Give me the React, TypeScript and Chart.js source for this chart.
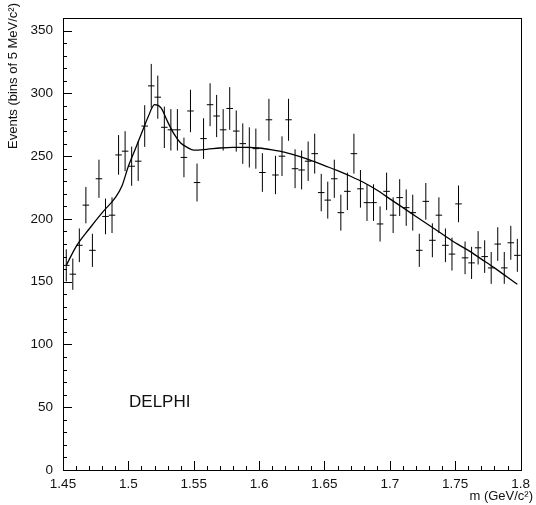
import React, { useEffect, useRef } from 'react';
import { Chart, registerables } from 'chart.js';

Chart.register(...registerables);

// bin centres (5 MeV bins) in GeV/c^2
const binCenters = [
  1.4525, 1.4575, 1.4625, 1.4675, 1.4725, 1.4775, 1.4825, 1.4875, 1.4925, 1.4975,
  1.5025, 1.5075, 1.5125, 1.5175, 1.5225, 1.5275, 1.5325, 1.5375, 1.5425, 1.5475,
  1.5525, 1.5575, 1.5625, 1.5675, 1.5725, 1.5775, 1.5825, 1.5875, 1.5925, 1.5975,
  1.6025, 1.6075, 1.6125, 1.6175, 1.6225, 1.6275, 1.6325, 1.6375, 1.6425, 1.6475,
  1.6525, 1.6575, 1.6625, 1.6675, 1.6725, 1.6775, 1.6825, 1.6875, 1.6925, 1.6975,
  1.7025, 1.7075, 1.7125, 1.7175, 1.7225, 1.7275, 1.7325, 1.7375, 1.7425, 1.7475,
  1.7525, 1.7575, 1.7625, 1.7675, 1.7725, 1.7775, 1.7825, 1.7875, 1.7925, 1.7975,
];

// events per bin
const events = [
  163, 156, 179, 211, 175, 232, 202, 203, 251, 254,
  242, 246, 274, 306, 297, 273, 271, 271, 249, 286,
  229, 264, 291, 282, 271, 288, 270, 260, 257, 256,
  237, 279, 235, 250, 279, 240, 239, 246, 252, 221,
  215, 232, 205, 222, 252, 224, 213, 213, 196, 222,
  203, 217, 209, 205, 175, 214, 183, 203, 179, 172,
  212, 169, 165, 177, 170, 161, 180, 161, 181, 171,
];

// statistical errors per bin
const errors = [
  12.8, 12.5, 13.4, 14.5, 13.2, 15.2, 14.2, 14.2, 15.8, 15.9,
  15.6, 15.7, 16.6, 17.5, 17.2, 16.5, 16.5, 16.5, 15.8, 16.9,
  15.1, 16.2, 17.1, 16.8, 16.5, 17.0, 16.4, 16.1, 16.0, 16.0,
  15.4, 16.7, 15.3, 15.8, 16.7, 15.5, 15.5, 15.7, 15.9, 14.9,
  14.7, 15.2, 14.3, 14.9, 15.9, 15.0, 14.6, 14.6, 14.0, 14.9,
  14.2, 14.7, 14.5, 14.3, 13.2, 14.6, 13.5, 14.2, 13.4, 13.1,
  14.6, 13.0, 12.8, 13.3, 13.0, 12.7, 13.4, 12.7, 13.5, 13.1,
];

// fitted curve
const fitX = [
  1.4525, 1.46, 1.47, 1.48, 1.49, 1.495, 1.5, 1.505, 1.51, 1.515, 1.52, 1.525,
  1.53, 1.535, 1.54, 1.545, 1.55, 1.56, 1.57, 1.58, 1.59, 1.6, 1.61, 1.62,
  1.63, 1.64, 1.65, 1.66, 1.67, 1.68, 1.69, 1.7, 1.71, 1.72, 1.73, 1.74,
  1.75, 1.76, 1.77, 1.78, 1.79, 1.7975,
];
const fitY = [
  163, 178, 192, 205, 217, 226, 242, 255, 268, 281, 291, 288.5,
  277.5, 267.5, 260.5, 257, 254.8, 255.5, 256.5, 257, 257, 256.5, 255, 253,
  250, 246.5, 242.5, 238.5, 234, 229, 223, 216, 209, 202, 195, 188,
  181, 175, 168, 161, 153.5, 148,
];

const xTickLabels = [1.45, 1.5, 1.55, 1.6, 1.65, 1.7, 1.75, 1.8];
const yTickLabels = [0, 50, 100, 150, 200, 250, 300, 350];

const FONT = 'Liberation Sans, Arial, Helvetica, sans-serif';

const framePlugin = {
  id: 'frame',
  afterDatasetsDraw(chart: any) {
    const { ctx, chartArea: a, scales } = chart;
    const xs = scales.x;
    const ys = scales.y;
    ctx.save();
    // error bars
    const meta = chart.getDatasetMeta(0);
    ctx.strokeStyle = '#000';
    ctx.lineWidth = 1;
    meta.data.forEach((pt: any, i: number) => {
      const x0 = xs.getPixelForValue(binCenters[i] - 0.0025);
      const x1 = xs.getPixelForValue(binCenters[i] + 0.0025);
      const yLo = ys.getPixelForValue(events[i] - errors[i]);
      const yHi = ys.getPixelForValue(events[i] + errors[i]);
      ctx.beginPath();
      ctx.moveTo(pt.x, yLo);
      ctx.lineTo(pt.x, yHi);
      ctx.moveTo(x0, pt.y);
      ctx.lineTo(x1, pt.y);
      ctx.stroke();
    });
    // frame
    ctx.strokeStyle = '#000';
    ctx.lineWidth = 1;
    ctx.strokeRect(Math.round(a.left) + 0.5, Math.round(a.top) + 0.5,
      Math.round(a.right - a.left), Math.round(a.bottom - a.top));
    // y ticks (inside, left)
    ctx.beginPath();
    for (let v = 0; v <= 360; v += 10) {
      const y = Math.round(ys.getPixelForValue(v)) + 0.5;
      const len = v % 50 === 0 ? 9 : 4;
      ctx.moveTo(a.left, y);
      ctx.lineTo(a.left + len, y);
    }
    // x ticks (inside, bottom)
    for (let k = 0; k <= 35; k++) {
      const v = 1.45 + k * 0.01;
      const x = Math.round(xs.getPixelForValue(v)) + 0.5;
      const len = k % 5 === 0 ? 9 : 4;
      ctx.moveTo(x, a.bottom);
      ctx.lineTo(x, a.bottom - len);
    }
    ctx.stroke();
    // texts
    ctx.fillStyle = '#111';
    ctx.font = `17px ${FONT}`;
    ctx.textAlign = 'left';
    ctx.textBaseline = 'middle';
    ctx.fillText('DELPHI', xs.getPixelForValue(1.5005), ys.getPixelForValue(54));

    ctx.font = `13px ${FONT}`;
    ctx.textAlign = 'right';
    ctx.textBaseline = 'alphabetic';
    ctx.fillText('m (GeV/c²)', 533, 500);

    ctx.save();
    ctx.translate(17, 3);
    ctx.rotate(-Math.PI / 2);
    ctx.textAlign = 'right';
    ctx.textBaseline = 'alphabetic';
    ctx.fillText('Events (bins of 5 MeV/c²)', 0, 0);
    ctx.restore();
    ctx.restore();
  },
};

export default function App() {
  const ref = useRef<HTMLCanvasElement | null>(null);
  useEffect(() => {
    if (!ref.current) return;
    const chart = new Chart(ref.current, {
      type: 'scatter',
      data: {
        datasets: [
          {
            type: 'scatter',
            data: binCenters.map((x, i) => ({ x, y: events[i] })),
            pointRadius: 0,
            pointHoverRadius: 0,
            borderColor: '#000',
            backgroundColor: '#000',
          },
          {
            type: 'line',
            data: fitX.map((x, i) => ({ x, y: fitY[i] })),
            borderColor: '#000',
            borderWidth: 1.3,
            pointRadius: 0,
            fill: false,
            cubicInterpolationMode: 'monotone',
          } as any,
        ],
      },
      options: {
        responsive: false,
        animation: false,
        events: [],
        layout: { padding: { top: 8, right: 9, left: 0, bottom: 0 } },
        plugins: { legend: { display: false }, tooltip: { enabled: false } },
        scales: {
          x: {
            type: 'linear',
            min: 1.45,
            max: 1.8,
            grid: { display: false, drawTicks: false },
            border: { display: false },
            afterBuildTicks: (s: any) => { s.ticks = xTickLabels.map((v) => ({ value: v })); },
            afterFit: (s: any) => { s.height = 35; },
            ticks: {
              autoSkip: false,
              maxRotation: 0,
              padding: 6,
              color: '#111',
              font: { family: FONT, size: 13.5 },
              callback: (v: any) => String(Number(Number(v).toFixed(2))),
            },
          },
          y: {
            type: 'linear',
            min: 0,
            max: 360,
            grid: { display: false, drawTicks: false },
            border: { display: false },
            afterBuildTicks: (s: any) => { s.ticks = yTickLabels.map((v) => ({ value: v })); },
            afterFit: (s: any) => { s.width = 63; },
            ticks: {
              autoSkip: false,
              padding: 10,
              color: '#111',
              font: { family: FONT, size: 13.5 },
              callback: (v: any) => String(v),
            },
          },
        },
      },
      plugins: [framePlugin],
    });
    return () => chart.destroy();
  }, []);
  return (
    <div style={{ position: 'absolute', left: 0, top: 0, width: 536, height: 505, background: '#fff' }}>
      <canvas ref={ref} width={536} height={505} style={{ display: 'block' }} />
    </div>
  );
}
